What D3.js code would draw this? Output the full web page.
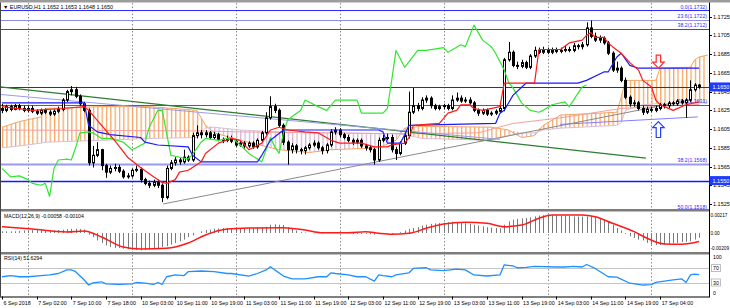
<!DOCTYPE html>
<html>
<head>
<meta charset="utf-8">
<script src="https://cdn.jsdelivr.net/npm/d3@7"></script>
<style>
html, body { margin: 0; padding: 0; background: #fff; }
svg { display: block; font-family: "Liberation Sans", Arial, sans-serif; }
</style>
</head>
<body>
<div id="chart"></div>
<script>
// EURUSD H1 candles, one value per bar
const opens = [1.1627,1.1625,1.1629,1.1626,1.1630,1.1627,1.1625,1.1627,1.1624,1.1622,
 1.1625,1.1623,1.1621,1.1624,1.1626,1.1636,1.1645,1.1647,1.1640,1.1632,
 1.1625,1.1569,1.1577,1.1583,1.1566,1.1559,1.1563,1.1564,1.1560,1.1554,
 1.1555,1.1561,1.1562,1.1551,1.1547,1.1545,1.1548,1.1545,1.1532,1.1563,
 1.1569,1.1572,1.1570,1.1575,1.1572,1.1598,1.1601,1.1599,1.1601,1.1596,
 1.1599,1.1594,1.1593,1.1595,1.1592,1.1588,1.1590,1.1587,1.1590,1.1586,
 1.1593,1.1601,1.1617,1.1629,1.1625,1.1609,1.1591,1.1583,1.1587,1.1583,
 1.1582,1.1585,1.1588,1.1590,1.1585,1.1582,1.1588,1.1602,1.1604,1.1599,
 1.1596,1.1593,1.1591,1.1593,1.1587,1.1585,1.1583,1.1572,1.1593,1.1595,
 1.1596,1.1583,1.1579,1.1590,1.1598,1.1623,1.1630,1.1627,1.1636,1.1638,
 1.1630,1.1627,1.1629,1.1630,1.1627,1.1636,1.1638,1.1635,1.1636,1.1633,
 1.1625,1.1622,1.1625,1.1621,1.1622,1.1624,1.1627,1.1679,1.1687,1.1673,
 1.1672,1.1676,1.1671,1.1683,1.1689,1.1687,1.1689,1.1687,1.1689,1.1688,
 1.1689,1.1690,1.1689,1.1694,1.1693,1.1695,1.1713,1.1704,1.1700,1.1702,
 1.1697,1.1686,1.1668,1.1670,1.1657,1.1639,1.1632,1.1633,1.1627,1.1623,
 1.1626,1.1625,1.1627,1.1631,1.1630,1.1633,1.1632,1.1635,1.1633,1.1636,
 1.1647,1.1652];
const highs = [1.1632,1.1631,1.1631,1.1632,1.1632,1.1630,1.1630,1.1630,1.1626,1.1627,
 1.1627,1.1625,1.1626,1.1629,1.1638,1.1647,1.1651,1.1650,1.1642,1.1634,
 1.1627,1.1587,1.1591,1.1584,1.1568,1.1566,1.1568,1.1567,1.1562,1.1558,
 1.1563,1.1566,1.1564,1.1553,1.1550,1.1551,1.1551,1.1547,1.1566,1.1572,
 1.1575,1.1575,1.1583,1.1577,1.1601,1.1609,1.1604,1.1604,1.1603,1.1602,
 1.1601,1.1596,1.1598,1.1598,1.1594,1.1592,1.1592,1.1592,1.1592,1.1595,
 1.1603,1.1623,1.1640,1.1632,1.1627,1.1611,1.1593,1.1590,1.1589,1.1585,
 1.1587,1.1590,1.1593,1.1592,1.1587,1.1590,1.1605,1.1607,1.1606,1.1601,
 1.1599,1.1595,1.1595,1.1595,1.1589,1.1587,1.1585,1.1596,1.1599,1.1600,
 1.1599,1.1586,1.1592,1.1601,1.1645,1.1649,1.1633,1.1639,1.1641,1.1640,
 1.1632,1.1631,1.1632,1.1632,1.1641,1.1644,1.1641,1.1639,1.1639,1.1635,
 1.1627,1.1627,1.1627,1.1624,1.1626,1.1630,1.1681,1.1698,1.1689,1.1677,
 1.1679,1.1678,1.1685,1.1693,1.1692,1.1693,1.1692,1.1692,1.1692,1.1692,
 1.1694,1.1693,1.1697,1.1696,1.1698,1.1719,1.1721,1.1708,1.1705,1.1704,
 1.1699,1.1688,1.1677,1.1672,1.1660,1.1641,1.1636,1.1635,1.1630,1.1629,
 1.1629,1.1630,1.1633,1.1633,1.1635,1.1635,1.1637,1.1637,1.1638,1.1657,
 1.1654,1.1653];
const lows = [1.1622,1.1623,1.1624,1.1625,1.1625,1.1623,1.1623,1.1622,1.1620,1.1620,
 1.1621,1.1619,1.1619,1.1622,1.1624,1.1634,1.1641,1.1638,1.1630,1.1623,
 1.1566,1.1564,1.1575,1.1561,1.1553,1.1557,1.1560,1.1558,1.1552,1.1552,
 1.1553,1.1559,1.1548,1.1545,1.1542,1.1543,1.1542,1.1527,1.1530,1.1561,
 1.1566,1.1567,1.1568,1.1570,1.1570,1.1595,1.1595,1.1596,1.1594,1.1594,
 1.1592,1.1590,1.1591,1.1590,1.1586,1.1586,1.1584,1.1585,1.1584,1.1584,
 1.1591,1.1599,1.1615,1.1622,1.1607,1.1588,1.1567,1.1579,1.1579,1.1578,
 1.1578,1.1583,1.1586,1.1583,1.1578,1.1579,1.1586,1.1599,1.1596,1.1594,
 1.1591,1.1588,1.1589,1.1585,1.1582,1.1580,1.1567,1.1570,1.1591,1.1593,
 1.1580,1.1572,1.1577,1.1588,1.1595,1.1621,1.1624,1.1625,1.1633,1.1627,
 1.1625,1.1625,1.1626,1.1625,1.1625,1.1634,1.1633,1.1633,1.1631,1.1623,
 1.1619,1.1620,1.1619,1.1619,1.1620,1.1622,1.1624,1.1677,1.1671,1.1669,
 1.1670,1.1669,1.1669,1.1681,1.1685,1.1685,1.1685,1.1685,1.1686,1.1686,
 1.1687,1.1687,1.1687,1.1690,1.1690,1.1693,1.1702,1.1698,1.1697,1.1695,
 1.1684,1.1666,1.1665,1.1655,1.1637,1.1629,1.1629,1.1625,1.1620,1.1621,
 1.1623,1.1623,1.1625,1.1627,1.1627,1.1630,1.1630,1.1631,1.1617,1.1634,
 1.1645,1.1648];
const closes = [1.1625,1.1629,1.1626,1.1630,1.1627,1.1625,1.1627,1.1624,1.1622,1.1625,
 1.1623,1.1621,1.1624,1.1626,1.1636,1.1645,1.1647,1.1640,1.1632,1.1625,
 1.1569,1.1577,1.1583,1.1566,1.1559,1.1563,1.1564,1.1560,1.1554,1.1555,
 1.1561,1.1562,1.1551,1.1547,1.1545,1.1548,1.1545,1.1532,1.1563,1.1569,
 1.1572,1.1570,1.1575,1.1572,1.1598,1.1601,1.1599,1.1601,1.1596,1.1599,
 1.1594,1.1593,1.1595,1.1592,1.1588,1.1590,1.1587,1.1590,1.1586,1.1593,
 1.1601,1.1617,1.1629,1.1625,1.1609,1.1591,1.1583,1.1587,1.1583,1.1582,
 1.1585,1.1588,1.1590,1.1585,1.1582,1.1588,1.1602,1.1604,1.1599,1.1596,
 1.1593,1.1591,1.1593,1.1587,1.1585,1.1583,1.1572,1.1593,1.1595,1.1596,
 1.1583,1.1579,1.1590,1.1598,1.1623,1.1630,1.1627,1.1636,1.1638,1.1630,
 1.1627,1.1629,1.1630,1.1627,1.1636,1.1638,1.1635,1.1636,1.1633,1.1625,
 1.1622,1.1625,1.1621,1.1622,1.1624,1.1627,1.1679,1.1687,1.1673,1.1672,
 1.1676,1.1671,1.1683,1.1689,1.1687,1.1689,1.1687,1.1689,1.1688,1.1689,
 1.1690,1.1689,1.1694,1.1693,1.1695,1.1713,1.1704,1.1700,1.1702,1.1697,
 1.1686,1.1668,1.1670,1.1657,1.1639,1.1632,1.1633,1.1627,1.1623,1.1626,
 1.1625,1.1627,1.1631,1.1630,1.1633,1.1632,1.1635,1.1633,1.1636,1.1647,
 1.1652,1.1650];

// Ichimoku lines, read at bar positions
const tenkanBars = [0,7,14,19,20,23,26,29,32,35,37,38,40,41,43,44,46,47,50,53,55,57,60,62,64,66,70,73,76,78,83,86,89,90,93,94,95,101,103,105,106,108,109,111,115,116,123,124,129,131,134,135,136,137,139,140,141,143,145,147,148,150,151,152,153,155,158,161];
const tenkanVals = [1.1629,1.1625,1.1627,1.1629,1.1625,1.1609,1.1593,1.1575,1.1564,1.1554,1.1548,1.1547,1.1551,1.1559,1.1561,1.1564,1.1570,1.1579,1.1590,1.1595,1.1593,1.1583,1.1590,1.1604,1.1607,1.1604,1.1602,1.1601,1.1593,1.1590,1.1590,1.1586,1.1586,1.1588,1.1590,1.1596,1.1609,1.1611,1.1622,1.1625,1.1631,1.1631,1.1627,1.1625,1.1629,1.1654,1.1654,1.1690,1.1690,1.1697,1.1700,1.1705,1.1708,1.1703,1.1703,1.1697,1.1693,1.1686,1.1676,1.1668,1.1657,1.1650,1.1636,1.1631,1.1629,1.1625,1.1631,1.1634];
const kijunBars = [0,19,20,22,25,32,33,36,43,44,46,59,60,62,65,87,88,89,92,93,94,114,115,116,118,121,133,135,139,140,142,143,145,147,161];
const kijunVals = [1.1633,1.1633,1.1609,1.1602,1.1599,1.1596,1.1591,1.1588,1.1586,1.1577,1.1570,1.1570,1.1577,1.1593,1.1604,1.1604,1.1602,1.1590,1.1590,1.1599,1.1609,1.1611,1.1622,1.1625,1.1641,1.1654,1.1654,1.1657,1.1666,1.1666,1.1682,1.1686,1.1673,1.1670,1.1670];
const chikouBars = [0,2,4,6,7,9,10,11,12,13,15,16,17,18,20,21,23,25,28,30,31,33,34,36,37,38,39,40,43,44,46,47,50,53,55,57,60,61,62,63,64,65,66,69,70,73,75,77,81,82,83,86,88,89,90,91,93,96,98,102,103,106,107,109,111,113,114,116,117,118,120,122,124,125,127,130,131,132,134,135];
const chikouVals = [1.1563,1.1554,1.1555,1.1551,1.1547,1.1545,1.1547,1.1533,1.1563,1.1572,1.1573,1.1572,1.1585,1.1601,1.1602,1.1601,1.1595,1.1595,1.1591,1.1583,1.1585,1.1590,1.1607,1.1625,1.1625,1.1601,1.1577,1.1576,1.1573,1.1578,1.1591,1.1595,1.1593,1.1596,1.1588,1.1579,1.1570,1.1583,1.1596,1.1586,1.1579,1.1601,1.1615,1.1625,1.1636,1.1629,1.1625,1.1636,1.1636,1.1636,1.1622,1.1622,1.1622,1.1627,1.1657,1.1689,1.1671,1.1689,1.1689,1.1692,1.1687,1.1695,1.1693,1.1716,1.1700,1.1693,1.1686,1.1668,1.1655,1.1649,1.1633,1.1625,1.1623,1.1625,1.1631,1.1634,1.1629,1.1636,1.1650,1.1652];
const cloudBars = [0,4,9,10,23,34,45,47,49,55,64,71,76,87,91,93,97,113,117,120,123,125,129,138,142,143,144,148,151,152,159,160,161,163];
const spanA = [1.1607,1.1613,1.1618,1.1627,1.1629,1.1629,1.1625,1.1609,1.1601,1.1593,1.1583,1.1580,1.1583,1.1585,1.1593,1.1606,1.1608,1.1607,1.1604,1.1596,1.1598,1.1609,1.1620,1.1622,1.1623,1.1639,1.1657,1.1657,1.1657,1.1670,1.1671,1.1679,1.1682,1.1684];
const spanB = [1.1585,1.1587,1.1590,1.1591,1.1593,1.1595,1.1596,1.1606,1.1607,1.1604,1.1602,1.1601,1.1601,1.1600,1.1600,1.1599,1.1595,1.1593,1.1598,1.1601,1.1601,1.1604,1.1606,1.1608,1.1609,1.1612,1.1625,1.1631,1.1632,1.1632,1.1633,1.1633,1.1633,1.1633];
const maBars = [0,46,55,94,110,118,129,143,159,161];
const maVals = [1.1604,1.1603,1.1602,1.1600,1.1601,1.1611,1.1617,1.1627,1.1631,1.1631];

// objects on the chart
const levels = [1.1732,1.1722,1.1712,1.1650,1.1631,1.1568,1.1550,1.1518];
const levelText = ["0.0(1.1732)","23.6(1.1722)","38.2(1.1712)","","23.6(1.1631)","38.2(1.1568)","","50.0(1.1518)"];
const trendBar0 = [-0.46,37.2,-0.46,128.9];
const trendPrice0 = [1.1650,1.1525,1.1642,1.1610];
const trendBar1 = [148.7,158.9,115,160.7];
const trendPrice1 = [1.1574,1.1636,1.1594,1.1618];
const arrowBars = [151.6,151.6];
const arrowFrom = [1.1684,1.1596];
const arrowTo = [1.1670,1.1613];

// MACD(12,26,9)
const macdMain = [0.0002,0.0002,0.0002,0.0002,0.00025,0.0003,0.0003,0.00035,0.00035,0.00035,
 0.0003,0.0003,0.0003,0.00035,0.0004,0.00045,0.0005,0.0005,0.00048,0.0004,
 -0.0002,-0.0005,-0.0009,-0.0012,-0.0015,-0.0017,-0.0018,-0.0018,-0.0019,-0.00195,
 -0.002,-0.00205,-0.00209,-0.00205,-0.002,-0.0019,-0.0018,-0.0017,-0.0016,-0.0014,
 -0.0012,-0.001,-0.0008,-0.0005,-0.0003,0.0000,0.0002,0.00035,0.0004,0.0005,
 0.00055,0.0006,0.0006,0.0006,0.0006,0.0006,0.0006,0.00062,0.00065,0.0007,
 0.0007,0.00075,0.001,0.00105,0.001,0.00096,0.0007,0.0005,0.0003,0.0001,
 0.00005,0,-0.00005,0,-0.00005,0.00005,0.0001,0.0001,0.00005,0,
 -0.00005,-0.0001,-0.0001,-0.0001,-0.0001,-0.00015,-0.0002,-0.00015,-0.0001,-0.0001,
 -0.0001,0,0.0001,0.0003,0.0005,0.0006,0.0007,0.0009,0.001,0.0011,
 0.00115,0.0012,0.00125,0.0013,0.00136,0.0013,0.00125,0.00117,0.0011,0.001,
 0.0009,0.0008,0.0007,0.00065,0.0006,0.00055,0.001,0.0014,0.0016,0.0017,
 0.00177,0.0018,0.0019,0.002,0.0021,0.00215,0.00217,0.00217,0.00214,0.0021,
 0.00209,0.00205,0.002,0.002,0.00197,0.002,0.002,0.0019,0.00175,0.0016,
 0.0014,0.001,0.0006,0.0003,-0.0001,-0.0004,-0.0006,-0.0008,-0.0009,-0.0012,
 -0.0014,-0.00145,-0.00145,-0.0014,-0.0013,-0.00125,-0.0012,-0.0011,-0.00105,-0.001,
 -0.0008,-0.00058];
const signalBars = [0,7,15,19,23,28,32,38,43,47,52,57,65,70,74,80,84,87,90,94,98,102,107,112,116,120,124,127,130,134,137,141,146,149,153,157,161];
const signalVals = [0.00076,0.00048,0.00012,0.00024,-0.00048,-0.00169,-0.00193,-0.00184,-0.00121,-0.00024,0.00048,0.0006,0.00064,0.00036,0.00004,0.00004,0.00016,-0.00004,-0.00016,-0.00004,0.00057,0.00108,0.00129,0.00117,0.00076,0.00096,0.00177,0.00217,0.00217,0.00217,0.00196,0.00117,0.00016,-0.00064,-0.00133,-0.00136,-0.00104];

// RSI(14)
const rsiBars = [0,2,4,6,9,11,13,15,16,17,19,20,21,23,24,27,30,31,33,35,36,37,38,40,42,43,46,49,52,53,57,59,61,62,63,65,67,70,73,75,76,77,80,82,84,86,87,88,90,91,94,95,98,99,102,105,107,109,112,115,116,118,119,121,123,128,130,132,134,135,137,140,142,145,148,150,151,155,157,158,159,160,161];
const rsiVals = [46,49,46,46,49,51,55,65,65,60,37,23,29,32,26,25,26,30,28,25,30,25,46,51,49,60,62,60,55,55,48,55,65,74,65,48,40,40,46,46,57,55,51,46,46,34,51,49,46,51,57,69,71,65,63,67,65,51,48,51,79,76,71,72,75,73,73,75,73,80,69,46,45,28,23,24,30.5,37,40,30,51,53,51.63];

// axes
const priceTicks = [1.1725,1.1705,1.1685,1.1665,1.1645,1.1625,1.1605,1.1585,1.1565,1.1545,1.1525];
const priceMarks = [1.1650,1.1550];
const gridBars = [6,30,54,78,102,126,150];
const timeBars = [0,8,16,24,32,40,48,56,64,72,80,88,96,104,112,120,128,136,144,152];
const timeLabels = ["6 Sep 2018","7 Sep 02:00","7 Sep 10:00","7 Sep 18:00","10 Sep 03:00","10 Sep 11:00","10 Sep 19:00","11 Sep 03:00","11 Sep 11:00","11 Sep 19:00","12 Sep 03:00","12 Sep 11:00","12 Sep 19:00","13 Sep 03:00","13 Sep 11:00","13 Sep 19:00","14 Sep 03:00","14 Sep 11:00","14 Sep 19:00","17 Sep 04:00"];

const W = 730, H = 308, right = 709;
const mainP = {top: 3, bottom: 209};
const macdP = {top: 211.5, bottom: 252};
const rsiP = {top: 254.5, bottom: 296.5};

const x = d3.scaleLinear().domain([0, 161]).range([2, 699.1]);
const step = x(1) - x(0);
const yMain = d3.scaleLinear().domain([1.1525, 1.1725]).range([204, 16.7]);
const yMacd = d3.scaleLinear().domain([-0.00209, 0.00217]).range([250.3, 215]);
const yRsi = d3.scaleLinear().domain([0, 100]).range([293.3, 257.3]);
const px = v => Math.round(v) + 0.5;

const svg = d3.select("#chart").append("svg").attr("width", W).attr("height", H);
svg.append("rect").attr("width", W).attr("height", H).attr("fill", "#fff");
const defs = svg.append("defs");

function clip(id, p) {
  defs.append("clipPath").attr("id", id).append("rect")
    .attr("x", 0).attr("y", p.top).attr("width", right).attr("height", p.bottom - p.top);
}
clip("cMain", mainP); clip("cMacd", macdP); clip("cRsi", rsiP);

function hatch(id, color) {
  const p = defs.append("pattern").attr("id", id).attr("patternUnits", "userSpaceOnUse")
    .attr("x", x(0)).attr("y", 0).attr("width", step).attr("height", 10);
  p.append("line").attr("x1", 0.6).attr("x2", 0.6).attr("y1", 0).attr("y2", 10)
    .attr("stroke", color).attr("stroke-width", 1.3);
}
hatch("hUp", "#f4a460");
hatch("hDn", "#d4b4d4");

// vertical dotted grid
svg.append("g").selectAll("line").data(gridBars).join("line")
  .attr("x1", d => px(x(d))).attr("x2", d => px(x(d)))
  .attr("y1", mainP.top).attr("y2", rsiP.bottom)
  .attr("stroke", "#8c8c8c").attr("stroke-dasharray", "1.5,2").attr("stroke-width", 1);

const gMain = svg.append("g").attr("clip-path", "url(#cMain)");

// Ichimoku cloud
const ck = d3.range(cloudBars.length);
gMain.append("path").datum(ck).attr("fill", "url(#hUp)")
  .attr("d", d3.area().x(k => x(cloudBars[k])).y0(k => yMain(spanB[k])).y1(k => yMain(Math.max(spanA[k], spanB[k])))(ck));
gMain.append("path").datum(ck).attr("fill", "url(#hDn)")
  .attr("d", d3.area().x(k => x(cloudBars[k])).y0(k => yMain(spanA[k])).y1(k => yMain(Math.max(spanA[k], spanB[k])))(ck));

function series(g, bars, vals, yS, color, w, curve) {
  const idx = d3.range(bars.length);
  g.append("path").datum(idx).attr("fill", "none").attr("stroke", color).attr("stroke-width", w)
    .attr("stroke-linejoin", "round")
    .attr("d", d3.line().x(k => x(bars[k])).y(k => yS(vals[k])).curve(curve || d3.curveLinear));
}
series(gMain, cloudBars, spanA, yMain, "#f4a460", 1);
series(gMain, cloudBars, spanB, yMain, "#d8bfd8", 1);
series(gMain, maBars, maVals, yMain, "#f4a0a0", 1);

// horizontal levels and fib labels
const levelStyle = [
  ["#2b2bff", 1], ["#8f8fe8", 1], ["#3a3aff", 1], ["#1f1fff", 1.2],
  ["#4a4aff", 1], ["#9a9af0", 2], ["#1515ff", 1.6], ["#3a3aff", 1]
];
gMain.append("g").selectAll("line").data(levels).join("line")
  .attr("x1", 0).attr("x2", right)
  .attr("y1", d => px(yMain(d))).attr("y2", d => px(yMain(d)))
  .attr("stroke", (d, i) => levelStyle[i][0]).attr("stroke-width", (d, i) => levelStyle[i][1]);
gMain.append("g").selectAll("text").data(levels).join("text")
  .attr("x", right - 2).attr("y", d => yMain(d) - 1.5)
  .attr("text-anchor", "end").attr("font-size", 5.2).attr("fill", "#2b2bff")
  .text((d, i) => levelText[i]);

// trend lines
const trendStyle = [["#2e7d2e", 1.3], ["#8a8a8a", 1], ["#9b9bea", 1], ["#8080ff", 1]];
gMain.append("g").selectAll("line").data(trendBar0).join("line")
  .attr("x1", (d, i) => x(d)).attr("y1", (d, i) => yMain(trendPrice0[i]))
  .attr("x2", (d, i) => x(trendBar1[i])).attr("y2", (d, i) => yMain(trendPrice1[i]))
  .attr("stroke", (d, i) => trendStyle[i][0]).attr("stroke-width", (d, i) => trendStyle[i][1]);

// candles
const bars = d3.range(closes.length);
const gc = gMain.append("g");
gc.selectAll("line").data(bars).join("line")
  .attr("x1", i => px(x(i))).attr("x2", i => px(x(i)))
  .attr("y1", i => yMain(highs[i])).attr("y2", i => yMain(lows[i]))
  .attr("stroke", "#000").attr("stroke-width", 1);
gc.selectAll("rect").data(bars).join("rect")
  .attr("x", i => px(x(i)) - 1).attr("width", 2)
  .attr("y", i => yMain(Math.max(opens[i], closes[i])))
  .attr("height", i => Math.max(0.3, Math.abs(yMain(opens[i]) - yMain(closes[i]))))
  .attr("fill", i => closes[i] >= opens[i] ? "#fff" : "#000")
  .attr("stroke", "#000").attr("stroke-width", 1);

// Ichimoku lines on top
series(gMain, chikouBars, chikouVals, yMain, "#32e632", 1.2);
series(gMain, kijunBars, kijunVals, yMain, "#1a1aff", 1.2);
series(gMain, tenkanBars, tenkanVals, yMain, "#ff1a1a", 1.2);

// arrows
const arrowColor = ["#ff2a2a", "#2040ff"];
gMain.append("g").selectAll("path").data(arrowBars).join("path")
  .attr("d", (d, i) => {
    const cx = x(d), y0 = yMain(arrowFrom[i]), y1 = yMain(arrowTo[i]);
    const dir = Math.sign(y1 - y0), neck = y1 - 6 * dir;
    return `M${cx - 2.2},${y0}L${cx + 2.2},${y0}L${cx + 2.2},${neck}L${cx + 5.8},${neck}L${cx},${y1}L${cx - 5.8},${neck}L${cx - 2.2},${neck}Z`;
  })
  .attr("fill", "#fff").attr("stroke", (d, i) => arrowColor[i]).attr("stroke-width", 1.2);

// header text
svg.append("text").attr("x", 3).attr("y", 8.8).attr("font-size", 5.4).attr("fill", "#000")
  .text("\u25BC EURUSD,H1  1.1652 1.1653 1.1648 1.1650");

// MACD panel
const gMacd = svg.append("g").attr("clip-path", "url(#cMacd)");
gMacd.selectAll("line").data(bars).join("line")
  .attr("x1", i => px(x(i))).attr("x2", i => px(x(i)))
  .attr("y1", yMacd(0)).attr("y2", i => yMacd(macdMain[i]))
  .attr("stroke", "#7a7a7a").attr("stroke-width", 1);
series(gMacd, signalBars, signalVals, yMacd, "#ff1a1a", 1.5, d3.curveMonotoneX);
svg.append("text").attr("x", 4).attr("y", 217.5).attr("font-size", 5.2)
  .text("MACD(12,26,9) -0.00058 -0.00104");

// RSI panel
const gRsi = svg.append("g").attr("clip-path", "url(#cRsi)");
gRsi.selectAll("line").data([70, 30]).join("line")
  .attr("x1", 0).attr("x2", right).attr("y1", d => px(yRsi(d))).attr("y2", d => px(yRsi(d)))
  .attr("stroke", "#c4c4c4").attr("stroke-width", 1);
series(gRsi, rsiBars, rsiVals, yRsi, "#1e90ff", 1.3);
svg.append("text").attr("x", 4).attr("y", 260).attr("font-size", 5.2).text("RSI(14) 51.6294");

// panel frames
svg.append("rect").attr("x", 0).attr("y", 0).attr("width", W).attr("height", 2.5).attr("fill", "#9c9c9c");
svg.append("rect").attr("x", 0).attr("y", mainP.bottom).attr("width", right + 1).attr("height", 2.5).attr("fill", "#7c7c7c");
svg.append("rect").attr("x", 0).attr("y", macdP.bottom).attr("width", right + 1).attr("height", 2.5).attr("fill", "#7c7c7c");
svg.append("line").attr("x1", 0.5).attr("x2", 0.5).attr("y1", 2.5).attr("y2", rsiP.bottom).attr("stroke", "#444");
svg.append("line").attr("x1", right + 0.5).attr("x2", right + 0.5).attr("y1", 2.5).attr("y2", rsiP.bottom + 0.5).attr("stroke", "#000");
svg.append("line").attr("x1", 0).attr("x2", right + 1).attr("y1", rsiP.bottom + 0.5).attr("y2", rsiP.bottom + 0.5).attr("stroke", "#000");

// price axis
const gAx = svg.append("g").attr("font-size", 5.5).attr("fill", "#000");
gAx.selectAll("line").data(priceTicks).join("line")
  .attr("x1", right).attr("x2", right + 3).attr("y1", d => px(yMain(d))).attr("y2", d => px(yMain(d)))
  .attr("stroke", "#000");
gAx.selectAll("text").data(priceTicks).join("text")
  .attr("x", right + 4).attr("y", d => yMain(d) + 2).text(d => d.toFixed(4));
const gMark = svg.append("g").selectAll("g").data(priceMarks).join("g");
gMark.append("rect").attr("x", right + 0.5).attr("y", d => yMain(d) - 4.5).attr("width", 20.5).attr("height", 9)
  .attr("fill", "#1e3cff");
gMark.append("text").attr("x", right + 3.5).attr("y", d => yMain(d) + 2).attr("font-size", 5.5)
  .attr("fill", "#fff").text(d => d.toFixed(4));

// MACD axis
const macdTicks = [0.00217, 0, -0.00209];
svg.append("g").attr("font-size", 4.7).selectAll("text").data(macdTicks).join("text")
  .attr("x", right + 1.5).attr("y", d => Math.min(yMacd(d) + 2, macdP.bottom - 2))
  .text(d => d === 0 ? "0.00" : d.toFixed(5));

// RSI axis
const rsiTicks = [100, 70, 30, 0];
const gR = svg.append("g").attr("font-size", 5.2).selectAll("g").data(rsiTicks).join("g");
gR.filter(d => d === 70 || d === 30).append("rect")
  .attr("x", right + 2.5).attr("y", d => yRsi(d) - 3.5).attr("width", 9).attr("height", 7)
  .attr("fill", "#fff").attr("stroke", "#b0b0b0").attr("stroke-width", 0.8);
gR.append("text").attr("x", right + 4).attr("y", d => yRsi(d) + 2).text(d => d);

// time axis
const gT = svg.append("g").attr("font-size", 5.3).attr("fill", "#000");
gT.selectAll("line").data(timeBars).join("line")
  .attr("x1", d => px(x(d))).attr("x2", d => px(x(d)))
  .attr("y1", rsiP.bottom).attr("y2", rsiP.bottom + 3).attr("stroke", "#000");
gT.selectAll("text").data(timeBars).join("text")
  .attr("x", d => x(d) + 1.5).attr("y", 304.5).text((d, i) => timeLabels[i]);
</script>
</body>
</html>
